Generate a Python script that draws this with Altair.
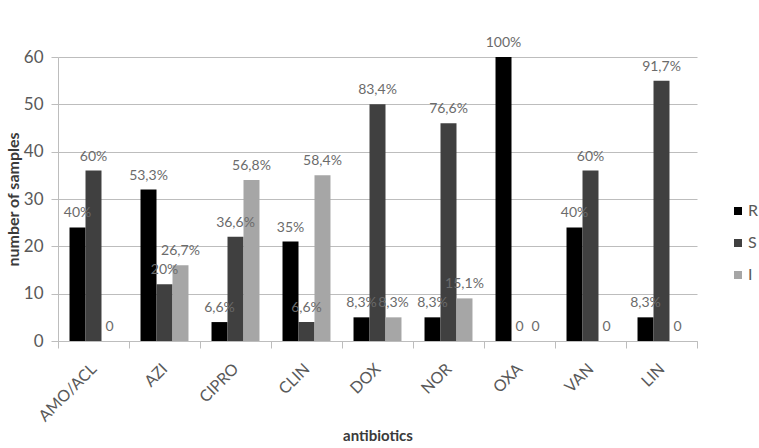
import altair as alt
import pandas as pd

categories = ["AMO/ACL", "AZI", "CIPRO", "CLIN", "DOX", "NOR", "OXA", "VAN", "LIN"]
series = ["R", "S", "I"]
r_values = [24, 32, 4, 21, 5, 5, 60, 24, 5]
s_values = [36, 12, 22, 4, 50, 46, 0, 36, 55]
i_values = [0, 16, 34, 35, 5, 9, 0, 0, 0]
r_labels = ["40%", "53,3%", "6,6%", "35%", "8,3%", "8,3%", "100%", "40%", "8,3%"]
s_labels = ["60%", "20%", "36,6%", "6,6%", "83,4%", "76,6%", "0", "60%", "91,7%"]
i_labels = ["0", "26,7%", "56,8%", "58,4%", "8,3%", "15,1%", "0", "0", "0"]
colors = ["#000000", "#404040", "#a6a6a6"]

rows = []
for k, cat in enumerate(categories):
    for s, vals, labs in zip(series, [r_values, s_values, i_values], [r_labels, s_labels, i_labels]):
        rows.append({"antibiotic": cat, "series": s, "value": vals[k], "label": labs[k]})
df = pd.DataFrame(rows)

FONT = "Lato"
GRAY = "#595959"
LINE = "#bdbdbd"

x = alt.X(
    "antibiotic:N",
    sort=categories,
    scale=alt.Scale(paddingInner=0, paddingOuter=0),
    axis=alt.Axis(
        title="antibiotics",
        labelAngle=-45,
        labelAlign="right",
        labelBaseline="middle",
        labelPadding=18,
        labelFontSize=16,
        labelColor=GRAY,
        labelFont=FONT,
        tickBand="extent",
        tickSize=7,
        tickColor=LINE,
        domainColor=LINE,
        titleFont=FONT,
        titleFontSize=15,
        titleFontWeight="bold",
        titleColor="#3a3a3a",
        titleY=94,
        titleBaseline="middle",
    ),
)
xo = alt.XOffset("series:N", sort=series, scale=alt.Scale(paddingInner=0, paddingOuter=0.72))
y = alt.Y(
    "value:Q",
    scale=alt.Scale(domain=[0, 60], nice=False),
    axis=alt.Axis(
        title="number of  samples",
        values=[0, 10, 20, 30, 40, 50, 60],
        labelFontSize=17,
        labelColor=GRAY,
        labelFont=FONT,
        labelPadding=8,
        tickSize=7,
        tickColor=LINE,
        domainColor=LINE,
        gridColor=LINE,
        titleFont=FONT,
        titleFontSize=16,
        titleFontWeight="bold",
        titleColor="#3a3a3a",
        titleX=-45,
        titleY=142,
        titleBaseline="middle",
    ),
)

bars = alt.Chart(df).mark_bar().encode(
    x=x,
    xOffset=xo,
    y=y,
    color=alt.Color(
        "series:N",
        sort=series,
        scale=alt.Scale(domain=series, range=colors),
        legend=alt.Legend(
            title=None,
            orient="none",
            legendX=672,
            legendY=146,
            symbolType="square",
            symbolSize=64,
            symbolStrokeWidth=0,
            labelFontSize=16,
            labelFont=FONT,
            labelColor=GRAY,
            rowPadding=16,
            labelOffset=2,
        ),
    ),
)

texts = alt.Chart(df).mark_text(
    baseline="alphabetic", dy=-10, fontSize=14, font=FONT, color="#6b6b6b"
).encode(x=x, xOffset=xo, y=y, text="label:N")

chart = (
    alt.layer(bars, texts)
    .properties(
        width=639,
        height=284,
        autosize=alt.AutoSizeParams(type="none"),
        padding={"left": 58, "top": 57, "right": 62, "bottom": 107},
        background="white",
    )
    .configure_view(stroke=None)
)

chart.save("out.html", embed_options={"renderer": "svg", "actions": False})
